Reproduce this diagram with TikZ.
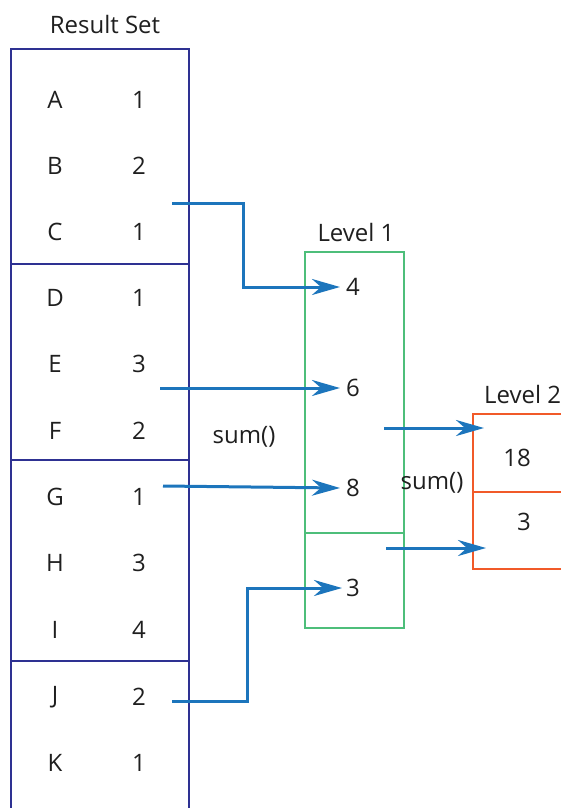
\documentclass[tikz,border=0pt]{standalone}
\usepackage{fontspec}
\setmainfont{Open Sans}
\usetikzlibrary{arrows.meta}
\definecolor{navy}{HTML}{2E3192}
\definecolor{lvgreen}{HTML}{4DBE7A}
\definecolor{lvorange}{HTML}{F15A29}
\definecolor{arrblue}{HTML}{1C75BC}
\tikzset{
  txt/.style={font=\fontsize{24}{28}\selectfont, inner sep=0pt, text=black!88},
  rsbox/.style={draw=navy, line width=2.2pt},
  l1box/.style={draw=lvgreen, line width=2.2pt},
  l2box/.style={draw=lvorange, line width=2.2pt},
  conn/.style={draw=arrblue, line width=3pt, -{Stealth[length=28pt,width=16pt,inset=9pt]}},
}
\begin{document}
\begin{tikzpicture}[x=1pt,y=-1pt]
\useasboundingbox (0,0) rectangle (561,808);
\clip (0,0) rectangle (561,808);
% Result set box
\draw[rsbox] (11,830) -- (11,49) -- (189,49) -- (189,830);
\draw[rsbox] (11,264) -- (189,264);
\draw[rsbox] (11,460) -- (189,460);
\draw[rsbox] (11,661) -- (189,661);
\node[txt] (rstitle) at (105,25) {Result Set};
% rows
\foreach \l/\n/\y [count=\i] in {A/1/100,B/2/166,C/1/232,D/1/298,E/3/364,F/2/431,G/1/497,H/3/563,I/4/630,J/2/697,K/1/763}{
  \node[txt] (let\i) at (55,\y) {\l};
  \node[txt] (num\i) at (139,\y) {\n};
}
% Level 1 box
\draw[l1box] (305,252) rectangle (404,628);
\draw[l1box] (305,533) -- (404,533);
\node[txt] (l1title) at (356,232) {Level 1};
\node[txt, anchor=west] (v4) at (346,287) {4};
\node[txt, anchor=west] (v6) at (346,388) {6};
\node[txt, anchor=west] (v8) at (346,488) {8};
\node[txt, anchor=west] (v3) at (346,588) {3};
% Level 2 box
\draw[l2box] (575,414) -- (473,414) -- (473,569) -- (575,569);
\draw[l2box] (473,492) -- (575,492);
\node[txt, anchor=west] (l2title) at (484,394) {Level 2};
\node[txt] (w18) at (517,458) {18};
\node[txt] (w3) at (524,522) {3};
% sum labels
\node[txt] (sum1) at (244,437) {sum()};
\node[txt] (sum2) at (432,483) {sum()};
% connector start/end points
\coordinate (sC) at (172,203);
\coordinate (sE) at (160,388);
\coordinate (sG) at (163,486);
\coordinate (sJ) at (172,701);
\coordinate (sA) at (384,428);
\coordinate (sB) at (386,548);
\coordinate (tA) at (484,428);
\coordinate (tB) at (486,548);
\draw[conn] (sC) -| (243,246) |- ([xshift=-6pt]v4.west);
\draw[conn] (sE) -- ([xshift=-6pt]v6.west);
\draw[conn] (sG) -- ([xshift=-6pt]v8.west);
\draw[conn] (sJ) -| (247,640) |- ([xshift=-4pt]v3.west);
\draw[conn] (sA) -- (tA);
\draw[conn] (sB) -- (tB);
\end{tikzpicture}
\end{document}
